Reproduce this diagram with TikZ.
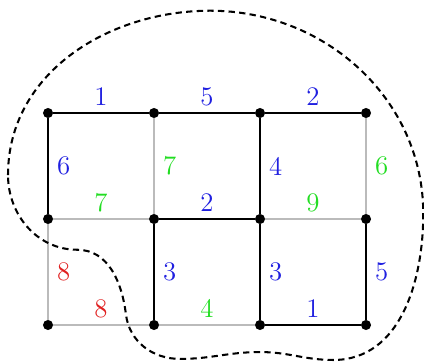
\documentclass[tikz,border=0pt]{standalone}
\usepackage{xcolor}
\usepackage{tikz}
\usetikzlibrary{positioning,calc}
\definecolor{wblue}{HTML}{2020E0}
\definecolor{wgreen}{HTML}{22DD22}
\definecolor{wred}{HTML}{E02020}
\definecolor{lgray}{HTML}{BBBBBB}
\tikzset{
  vtx/.style={circle, fill=black, draw=none, inner sep=0pt,
    minimum size=0.19cm},
  treeedge/.style={draw=black, line width=1.1pt},
  restedge/.style={draw=lgray, line width=1.1pt},
  wtop/.style={midway, above=0pt, text=#1,
    font=\fontsize{14.4}{17}\selectfont},
  wtop/.default=wblue,
  wside/.style={midway, right=1pt, text=#1,
    font=\fontsize{14.4}{17}\selectfont},
  wside/.default=wblue,
  cutline/.style={draw=black, dash pattern=on 3.4pt off 2.3pt,
    line width=1.1pt},
}

\begin{document}
\begin{tikzpicture}
\useasboundingbox (-0.906,-0.698) rectangle (7.094,6.132);
% grid vertices, v<column><row>
\foreach \c in {0,1,2,3}
  \foreach \r in {0,1,2}
    \node[vtx] (v\c\r) at (2*\c,2*\r) {};
% light edges
\draw[restedge] (v12) -- (v11) node[wside=wgreen] {7};
\draw[restedge] (v32) -- (v31) node[wside=wgreen] {6};
\draw[restedge] (v01) -- (v11) node[wtop=wgreen] {7};
\draw[restedge] (v21) -- (v31) node[wtop=wgreen] {9};
\draw[restedge] (v01) -- (v00) node[wside=wred] {8};
\draw[restedge] (v00) -- (v10) node[wtop=wred] {8};
\draw[restedge] (v10) -- (v20) node[wtop=wgreen] {4};
% black edges
\draw[treeedge] (v02) -- (v12) node[wtop] {1};
\draw[treeedge] (v12) -- (v22) node[wtop] {5};
\draw[treeedge] (v22) -- (v32) node[wtop] {2};
\draw[treeedge] (v02) -- (v01) node[wside] {6};
\draw[treeedge] (v22) -- (v21) node[wside] {4};
\draw[treeedge] (v11) -- (v21) node[wtop] {2};
\draw[treeedge] (v11) -- (v10) node[wside] {3};
\draw[treeedge] (v21) -- (v20) node[wside] {3};
\draw[treeedge] (v31) -- (v30) node[wside] {5};
\draw[treeedge] (v20) -- (v30) node[wtop] {1};
% the cut
\coordinate (cl) at (-0.755,2.83);
\coordinate (ct) at (3.06,5.93);
\coordinate (cr) at (7.08,2.1);
\coordinate (cb2) at (5.38,-0.66);
\coordinate (cp) at (4.0,-0.51);
\coordinate (cb1) at (2.49,-0.64);
\coordinate (cn) at (1.47,0.2);
\coordinate (cs) at (0.55,1.42);
\draw[cutline] (cl) to[out=90,in=180] (ct) to[out=0,in=90] (cr)
  to[out=-90,in=0] (cb2) to[out=180,in=0] (cp) to[out=180,in=0] (cb1)
  to[out=180,in=-83] (cn) to[out=97,in=0] (cs) to[out=180,in=-90] (cl);
\end{tikzpicture}
\end{document}
